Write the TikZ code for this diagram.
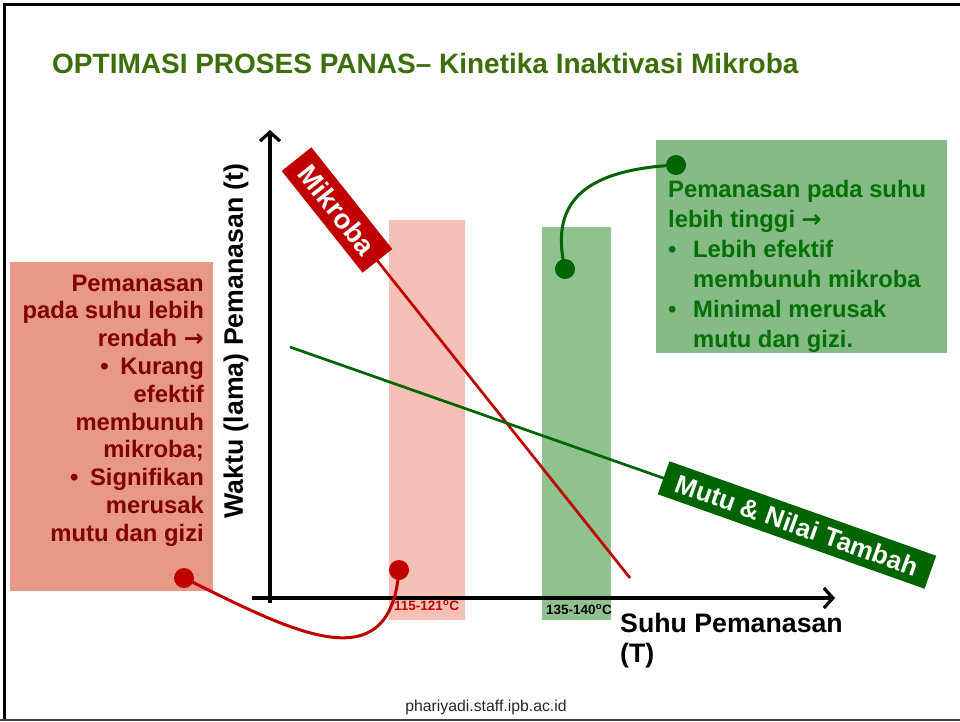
\documentclass[tikz,border=0pt]{standalone}
\usepackage{fontspec}
\setmainfont{Liberation Sans}
\newfontfamily\arrfont{DejaVu Sans}
\usetikzlibrary{arrows.meta}
\definecolor{titlegreen}{RGB}{60,110,10}
\definecolor{mred}{RGB}{192,0,0}
\definecolor{dred}{RGB}{128,0,0}
\definecolor{mgreen}{RGB}{0,100,0}
\definecolor{tgreen}{RGB}{0,112,0}
\definecolor{lboxfill}{RGB}{232,152,134}
\definecolor{gboxfill}{RGB}{134,186,134}
\definecolor{rband}{RGB}{245,192,182}
\definecolor{gband}{RGB}{144,194,144}
\newcommand{\rarr}{{\arrfont\bfseries →}}
\tikzset{
  txt/.style={inner sep=0pt},
  boxtext/.style={txt, font=\bfseries\fontsize{23.8}{27.8}\selectfont},
  axislab/.style={txt, font=\bfseries\fontsize{26.7}{30}\selectfont},
  axisline/.style={line width=3.2pt, -{Straight Barb[length=9pt,width=20pt]}},
  dot/.style={circle, inner sep=0pt, minimum size=20pt},
  connector/.style={line width=3pt},
  tagbox/.style={text=white, font=\bfseries\fontsize{26}{26}\selectfont, inner sep=0pt},
  bandlab/.style={txt, font=\bfseries\fontsize{13.5}{13.5}\selectfont}
}
\begin{document}
\begin{tikzpicture}[x=1pt,y=-1pt]
\useasboundingbox (0,0) rectangle (960,721);
% frame
\draw[line width=2.7pt, black] (4.5,721) -- (4.5,4.5) -- (960,4.5);
\draw[line width=1.8pt, black!75] (0,720) -- (960,720);
% title
\node[txt, anchor=base west, font=\bfseries\fontsize{28}{28}\selectfont, text=titlegreen] (title) at (52,73) {OPTIMASI PROSES PANAS– Kinetika Inaktivasi Mikroba};
% bands
\fill[rband] (389,220) rectangle (465,620);
\fill[gband] (542,227) rectangle (611,620);
% axes
\coordinate (yb) at (270,603);
\coordinate (yt) at (270,130);
\coordinate (xl) at (252,598);
\coordinate (xr) at (835,598);
\draw[axisline] (yb) -- (yt);
\draw[axisline] (xl) -- (xr);
% band labels
\node[bandlab, anchor=north west, text=mred] (b1) at (394,600) {115-121\textsuperscript{o}C};
\node[bandlab, anchor=north west, text=black] (b2) at (546,604) {135-140\textsuperscript{o}C};
% axis labels
\node[axislab, rotate=90] (ylab) at (236,341) {Waktu (lama) Pemanasan (t)};
\node[axislab, anchor=base west] (xlab1) at (620,632) {Suhu Pemanasan};
\node[axislab, anchor=base west] (xlab2) at (620,662) {(T)};
% lines
\coordinate (rA) at (337,210);
\coordinate (rB) at (630,578);
\draw[mred, line width=2.7pt] (rA) -- (rB);
\coordinate (gA) at (290,347);
\coordinate (gB) at (797,525);
\draw[mgreen, line width=2.7pt] (gA) -- (gB);
\node[tagbox, fill=mred, rotate=-51.5, minimum width=130pt, minimum height=38pt, font=\bfseries\fontsize{27.5}{27.5}\selectfont] (mik) at (rA) {Mikroba};
\node[tagbox, fill=mgreen, rotate=-19.5, minimum width=283pt, minimum height=35pt] (mutu) at (gB) {Mutu \& Nilai Tambah};
% left box
\fill[lboxfill] (10,262) rectangle (213,591);
\node[boxtext, anchor=north east, align=right, text=dred] (ltxt) at (204,274.5) {Pemanasan\\pada suhu lebih\\rendah \rarr\\\makebox[20pt][l]{•}Kurang\\efektif\\membunuh\\mikroba;\\\makebox[20pt][l]{•}Signifikan\\merusak\\mutu dan gizi};
% right box
\fill[gboxfill] (656,140) rectangle (947,353);
\node[txt, anchor=north west, align=left, text=tgreen, font=\bfseries\fontsize{23.8}{30}\selectfont] (gtxt) at (668,180) {Pemanasan pada suhu\\lebih tinggi \rarr\\\makebox[25pt][l]{•}Lebih efektif\\\hspace*{25pt}membunuh mikroba\\\makebox[25pt][l]{•}Minimal merusak\\\hspace*{25pt}mutu dan gizi.};
% dots and connectors
\node[dot, fill=mred] (d1) at (184,578) {};
\node[dot, fill=mred] (d2) at (399,570) {};
\draw[connector, mred] (d1.center) .. controls (290,630) and (390,685) .. (d2.center);
\node[dot, fill=mgreen] (g1) at (676,165) {};
\node[dot, fill=mgreen] (g2) at (565,269) {};
\draw[connector, mgreen] (g1.center) .. controls (580,170) and (550,205) .. (g2.center);
% footer
\node[txt, font=\fontsize{15.8}{15.8}\selectfont, text=black!85] (foot) at (486,707) {phariyadi.staff.ipb.ac.id};
\end{tikzpicture}
\end{document}
